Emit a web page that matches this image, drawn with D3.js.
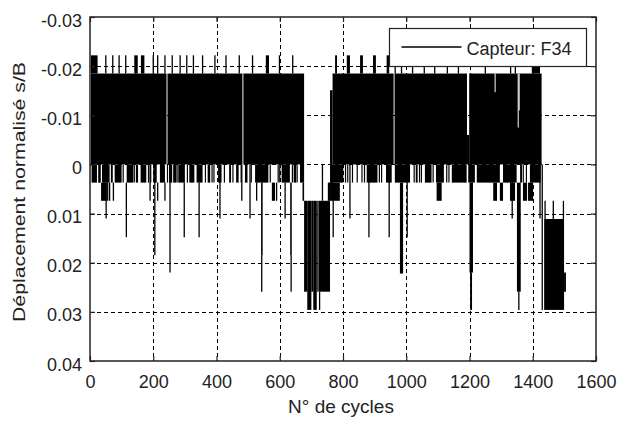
<!DOCTYPE html>
<html>
<head>
<meta charset="utf-8">
<script src="https://cdn.jsdelivr.net/npm/d3@7"></script>
<style>
  body { margin: 0; background: #fff; }
  text { font-family: "Liberation Sans", Arial, sans-serif; fill: #222; }
</style>
</head>
<body>
<div id="root"></div>
<script>
// axis ticks
const xTicks = [0, 200, 400, 600, 800, 1000, 1200, 1400, 1600]
const yTicks = [-0.03, -0.02, -0.01, 0, 0.01, 0.02, 0.03, 0.04]
const yTickLabels = ["-0.03", "-0.02", "-0.01", "0", "0.01", "0.02", "0.03", "0.04"]

// envelope of the dense signal: [cycleStart, cycleEnd, top, bottom]
const bands = [
  // first loading block
  [3, 242, -0.0185, 0], [245, 482, -0.0185, 0], [485, 677, -0.0185, 0],
  [3, 24, -0.0222, -0.0185], [140, 151, -0.0222, -0.0185], [161, 172, -0.0222, -0.0185], [556, 566, -0.0222, -0.0185],
  [5, 22, 0, 0.0037], [26, 34, 0, 0.0037], [38, 62, 0, 0.0037], [66, 72, 0, 0.0037], [78, 100, 0, 0.0037],
  [116, 137, 0, 0.0037], [145, 152, 0, 0.0037], [160, 178, 0, 0.0037], [200, 211, 0, 0.0037], [221, 237, 0, 0.0037],
  [250, 256, 0, 0.0037], [263, 274, 0, 0.0037], [280, 300, 0, 0.0037], [314, 330, 0, 0.0037], [337, 356, 0, 0.0037],
  [372, 380, 0, 0.0037], [405, 416, 0, 0.0037], [440, 446, 0, 0.0037], [462, 470, 0, 0.0037], [490, 498, 0, 0.0037],
  [522, 564, 0, 0.0037], [606, 632, 0, 0.0037], [644, 652, 0, 0.0037], [664, 677, 0, 0.0037],
  [35, 53, 0.0037, 0.0074], [575, 585, 0.0037, 0.0074], [672, 677, 0.0037, 0.0074],
  [541, 546, 0.0037, 0.0185], [633, 638, 0.0037, 0.0185],
  // settlement block
  [677, 687, 0.0074, 0.0259], [687, 700, 0.0074, 0.0296], [700, 706, 0.0074, 0.0259], [706, 717, 0.0074, 0.0296],
  [717, 720, 0.0074, 0.0259], [722, 759, 0.0074, 0.0259], [752, 759, 0.0037, 0.0074], [759, 767, -0.0151, 0.0074],
  // second loading block
  [767, 960, -0.0185, 0], [963, 1192, -0.0185, 0], [1192, 1199, -0.006, 0], [1199, 1428, -0.0185, 0],
  [775, 781, -0.0222, -0.0185], [812, 822, -0.0222, -0.0185], [854, 863, -0.0222, -0.0185],
  [895, 904, -0.0222, -0.0185], [938, 946, -0.0222, -0.0185], [1397, 1423, -0.0203, -0.0185],
  [764, 801, 0, 0.0037], [875, 909, 0, 0.0037], [936, 954, 0, 0.0037], [964, 1012, 0, 0.0037], [1030, 1036, 0, 0.0037],
  [1059, 1080, 0, 0.0037], [1094, 1119, 0, 0.0037], [1144, 1191, 0, 0.0037], [1196, 1217, 0, 0.0037],
  [1223, 1296, 0, 0.0037], [1306, 1349, 0, 0.0037], [1360, 1366, 0, 0.0037], [1391, 1425, 0, 0.0037],
  [764, 790, 0.0037, 0.0074], [1096, 1112, 0.0037, 0.0074], [1275, 1287, 0.0037, 0.0074], [1296, 1306, 0.0037, 0.0074],
  [1328, 1344, 0.0037, 0.0074], [1369, 1382, 0.0037, 0.0074], [1385, 1401, 0.0037, 0.0074],
  [980, 990, 0.0037, 0.0222], [1200, 1211, 0.0037, 0.022], [1202, 1208, 0.022, 0.0296], [1350, 1362, 0.0037, 0.0259],
  // last block
  [1436, 1499, 0.0111, 0.0296], [1499, 1505, 0.022, 0.0259]
]

// single-cycle peaks: [cycle, from, to]
const peaks = [
  [50, -0.0185, -0.0222], [72, -0.0185, -0.0222], [92, -0.0185, -0.0222], [113, -0.0185, -0.0222],
  [200, -0.0185, -0.0222], [214, -0.0185, -0.0222], [237, -0.0185, -0.0222], [260, -0.0185, -0.0222],
  [285, -0.0185, -0.0222], [306, -0.0185, -0.0222], [327, -0.0185, -0.0222], [356, -0.0185, -0.0222],
  [395, -0.0185, -0.0222], [430, -0.0185, -0.0222], [472, -0.0185, -0.0222], [514, -0.0185, -0.0222],
  [599, -0.0185, -0.0222], [641, -0.0185, -0.0222],
  [965, -0.0185, -0.0203], [985, -0.0185, -0.0203], [1020, -0.0185, -0.0203], [1057, -0.0185, -0.0203],
  [1090, -0.0185, -0.0203], [1130, -0.0185, -0.0203], [1165, -0.0185, -0.0203], [1250, -0.0185, -0.0203],
  [1330, -0.0185, -0.0203], [1345, -0.0185, -0.0203],
  [51, 0.0037, 0.011], [56, 0.0037, 0.0074], [62, 0.0037, 0.0074], [74, 0.0037, 0.0074], [115, 0.0037, 0.0148],
  [190, 0, 0.0074], [205, 0, 0.0185], [214, 0.0037, 0.0074], [237, 0.0037, 0.0074], [253, 0, 0.022],
  [298, 0.0037, 0.0148], [345, 0.0037, 0.0148], [411, 0, 0.011], [480, 0, 0.0074], [506, 0, 0.011],
  [527, 0.0037, 0.0074], [543, 0.0185, 0.0259], [590, 0.0037, 0.0074], [617, 0.0037, 0.011], [636, 0.0185, 0.0259],
  [726, 0.0259, 0.0296], [735, 0, 0.0074], [769, 0.0074, 0.0148],
  [822, 0, 0.011], [882, 0, 0.0148], [946, 0, 0.0148], [1003, 0, 0.0148], [1335, 0, 0.011],
  [1356, 0.0259, 0.0296], [1423, 0, 0.011], [1430, 0, 0.0296],
  [1439, 0.0074, 0.0111], [1465, 0.0074, 0.0111], [1497, 0.0074, 0.0111]
]

// isolated cycles reaching 0.0037
const fringeCycles = [30, 45, 105, 140, 185, 192, 245, 258, 278, 308, 365, 386, 392, 425, 452, 478, 510, 570,
  595, 600, 640, 655, 808, 815, 830, 845, 860, 868, 915, 922, 1025, 1042, 1048, 1085, 1128, 1135, 1370, 1380]

// missing samples inside blocks: [cycle, from, to]
const gaps = [[1281, -0.0185, -0.0147], [1354, -0.0185, -0.0075], [1357, -0.0185, -0.011]]

const seriesName = "Capteur: F34"

function draw() {
  const ROOT = d3.select("#root")
  ROOT.selectAll("*").remove()

  const width = 625, height = 421
  const box = { left: 90, right: 596, top: 17, bottom: 361 }

  const svg = ROOT.append("svg")
    .attr("width", width)
    .attr("height", height)

  const x = d3.scaleLinear().domain([0, 1600]).range([box.left, box.right])
  // reversed axis: -0.03 on top
  const y = d3.scaleLinear().domain([-0.03, 0.04]).range([box.top, box.bottom])
  const px = v => Math.round(v) + 0.5

  // grid
  const grid = svg.append("g")
    .attr("stroke", "#000")
    .attr("stroke-width", 1)
    .attr("stroke-dasharray", "4,3")
    .attr("shape-rendering", "crispEdges")
  grid.selectAll(".gx")
    .data(xTicks.slice(1, -1))
    .join("line")
    .attr("x1", d => px(x(d))).attr("x2", d => px(x(d)))
    .attr("y1", box.top).attr("y2", box.bottom)
  grid.selectAll(".gy")
    .data(yTicks.slice(1, -1))
    .join("line")
    .attr("x1", box.left).attr("x2", box.right)
    .attr("y1", d => px(y(d))).attr("y2", d => px(y(d)))

  // signal
  const data = svg.append("g")
  data.selectAll("rect")
    .data(bands)
    .join("rect")
    .attr("x", d => x(d[0]))
    .attr("width", d => Math.max(1, x(d[1]) - x(d[0])))
    .attr("y", d => y(d[2]))
    .attr("height", d => y(d[3]) - y(d[2]))
    .attr("fill", "#000")
  data.selectAll(".peak")
    .data(peaks)
    .join("line")
    .attr("x1", d => x(d[0])).attr("x2", d => x(d[0]))
    .attr("y1", d => y(d[1])).attr("y2", d => y(d[2]))
    .attr("stroke", "#000")
    .attr("stroke-width", 1.3)
  data.selectAll(".fringe")
    .data(fringeCycles)
    .join("line")
    .attr("x1", d => x(d)).attr("x2", d => x(d))
    .attr("y1", y(0)).attr("y2", y(0.0037))
    .attr("stroke", "#000")
    .attr("stroke-width", 1.2)
  data.selectAll(".gap")
    .data(gaps)
    .join("line")
    .attr("x1", d => x(d[0])).attr("x2", d => x(d[0]))
    .attr("y1", d => y(d[1])).attr("y2", d => y(d[2]))
    .attr("stroke", "#fff")
    .attr("stroke-width", 1)

  // axes, ticks pointing inward
  const tickLen = 5
  const xAxis = svg.append("g")
    .attr("transform", `translate(0,${box.bottom})`)
    .call(d3.axisBottom(x).tickValues(xTicks).tickSize(-tickLen).tickPadding(14).tickFormat(d3.format("d")))
  const xTop = svg.append("g")
    .attr("transform", `translate(0,${box.top})`)
    .call(d3.axisTop(x).tickValues(xTicks).tickSize(-tickLen).tickFormat(""))
  const yAxis = svg.append("g")
    .attr("transform", `translate(${box.left},0)`)
    .call(d3.axisLeft(y).tickValues(yTicks).tickSize(-tickLen).tickPadding(8)
      .tickFormat((d, i) => yTickLabels[i]))
  const yRight = svg.append("g")
    .attr("transform", `translate(${box.right},0)`)
    .call(d3.axisRight(y).tickValues(yTicks).tickSize(-tickLen).tickFormat(""))

  ;[xAxis, xTop, yAxis, yRight].forEach(a => {
    a.select(".domain").remove()
    a.selectAll(".tick line").attr("stroke", "#222").attr("stroke-width", 1.2)
    a.selectAll("text")
      .attr("font-size", "18px")
      .attr("font-family", "Liberation Sans, Arial, sans-serif")
      .attr("fill", "#222")
  })
  yAxis.selectAll("text").attr("dy", "0.5em")

  svg.append("rect")
    .attr("x", box.left).attr("y", box.top)
    .attr("width", box.right - box.left)
    .attr("height", box.bottom - box.top)
    .attr("fill", "none")
    .attr("stroke", "#222")
    .attr("stroke-width", 1.5)

  // axis titles
  svg.append("text")
    .attr("x", (box.left + box.right) / 2 - 2)
    .attr("y", 413)
    .attr("text-anchor", "middle")
    .attr("font-size", "19px")
    .text("N° de cycles")

  svg.append("text")
    .attr("transform", `translate(25,${(box.top + box.bottom) / 2 + 3}) rotate(-90)`)
    .attr("text-anchor", "middle")
    .attr("font-size", "16.5px")
    .attr("textLength", 260)
    .attr("lengthAdjust", "spacingAndGlyphs")
    .text("Déplacement normalisé s/B")

  // legend
  const legend = svg.append("g").attr("transform", "translate(389.5,28.5)")
  legend.append("rect")
    .attr("width", 197).attr("height", 38)
    .attr("fill", "#fff")
    .attr("stroke", "#222")
    .attr("stroke-width", 1.2)
  legend.append("line")
    .attr("x1", 12).attr("x2", 72)
    .attr("y1", 18.5).attr("y2", 18.5)
    .attr("stroke", "#000")
    .attr("stroke-width", 1.3)
  legend.append("text")
    .attr("x", 77).attr("y", 26)
    .attr("font-size", "18px")
    .text(seriesName)
}

draw()
</script>
</body>
</html>
